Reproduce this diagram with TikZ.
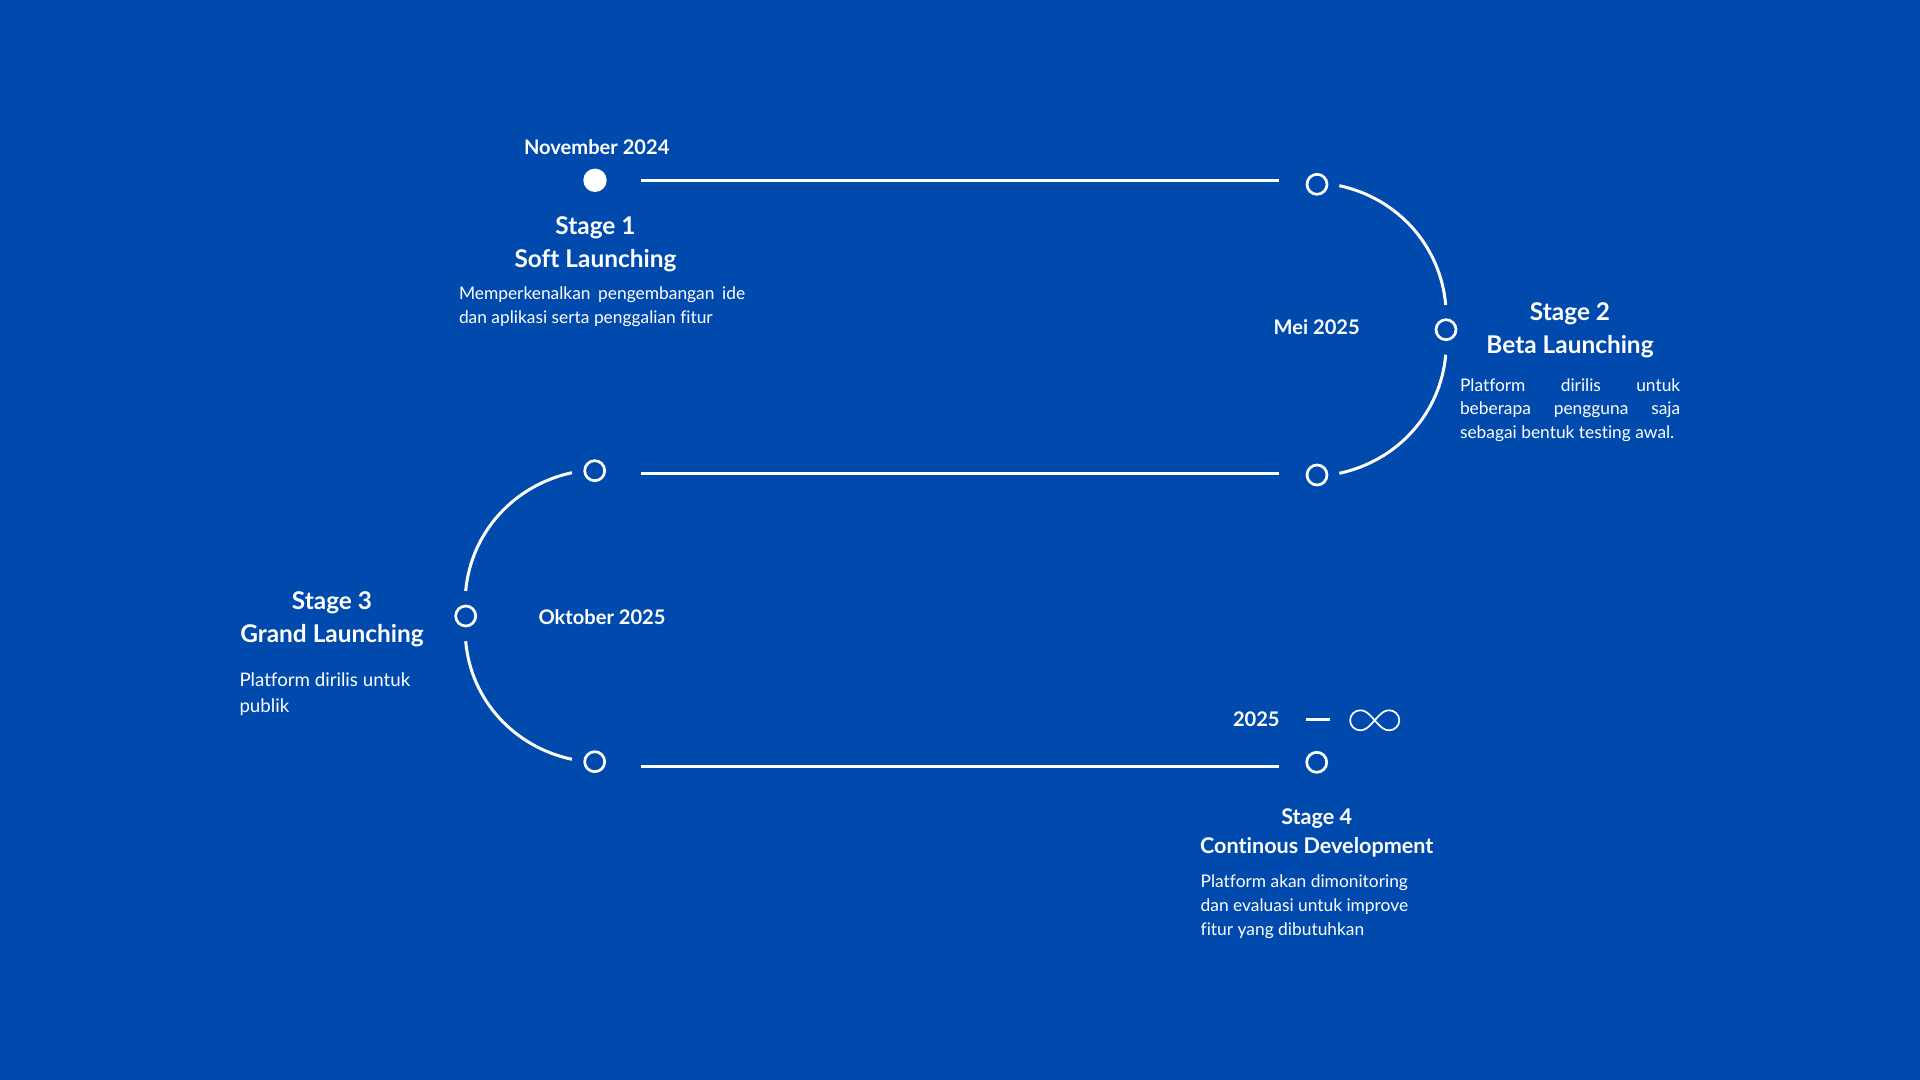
\documentclass[tikz,border=0pt]{standalone}
\usepackage{fontspec}
\setmainfont{Lato}[Ligatures=CommonOff]
\definecolor{bgblue}{HTML}{004AAD}
\newcommand{\just}[2]{\makebox[#1][s]{#2}}
\tikzset{
  x=0.5pt,y=-0.5pt,
  every node/.style={text=white,inner sep=0pt,outer sep=0pt},
  conn/.style={draw=white,line width=1.5pt},
  arcconn/.style={conn,looseness=0.95},
  dot/.style={circle,draw=white,line width=1.35pt,minimum size=10pt},
  dotfull/.style={circle,fill=white,minimum size=11.7pt},
  datelabel/.style={anchor=base,font=\fontsize{10.05pt}{12pt}\selectfont\bfseries},
  title/.style={anchor=base,align=center,font=\fontsize{12.2pt}{16.35pt}\selectfont\bfseries},
  titlesmall/.style={anchor=base,align=center,font=\fontsize{10.8pt}{14.6pt}\selectfont\bfseries},
  body/.style={anchor=base west,align=left,font=\fontsize{8.68pt}{11.9pt}\selectfont},
  bodybig/.style={anchor=base west,align=left,font=\fontsize{9.35pt}{13.15pt}\selectfont},
}
\begin{document}
\begin{tikzpicture}
\path[fill=bgblue] (0,0) rectangle (1920,1080);
% stage dots
\node[dotfull] (n1) at (595,180.3) {};
\node[dot] (n2) at (1317,184.3) {};
\node[dot] (n3) at (1446,329.7) {};
\node[dot] (n4) at (1317,475) {};
\node[dot] (n5) at (594.7,470.7) {};
\node[dot] (n6) at (465.7,616) {};
\node[dot] (n7) at (594.7,761.7) {};
\node[dot] (n8) at (1316.7,762.3) {};
% connector end points
\coordinate (a1) at (641,180.3);
\coordinate (a2) at (1279,180.3);
\coordinate (b1) at (1339.3,185.7);
\coordinate (b2) at (1445.7,305);
\coordinate (b3) at (1445.7,354.7);
\coordinate (b4) at (1339.3,473.3);
\coordinate (c1) at (1279,473.3);
\coordinate (c2) at (641,473.3);
\coordinate (d1) at (572,472.7);
\coordinate (d2) at (465.7,591);
\coordinate (d3) at (465.7,641.3);
\coordinate (d4) at (572,759.3);
\coordinate (e1) at (641,766.3);
\coordinate (e2) at (1279,766.3);
\coordinate (f1) at (1305.7,719.3);
\coordinate (f2) at (1330,719.3);
\draw[conn] (a1) -- (a2);
\draw[arcconn] (b1) to[out=-12,in=95] (b2);
\draw[arcconn] (b3) to[out=-95,in=12] (b4);
\draw[conn] (c1) -- (c2);
\draw[arcconn] (d1) to[out=192,in=85] (d2);
\draw[arcconn] (d3) to[out=-85,in=168] (d4);
\draw[conn] (e1) -- (e2);
\draw[conn] (f1) -- (f2);
% infinity sign
\begin{scope}[shift={(1374.7,720.3)}]
\draw[draw=white,line width=0.85pt] (0,0)
  .. controls (7,-8) and (10,-10) .. (14.5,-10)
  .. controls (20,-10) and (24.6,-5.5) .. (24.6,0)
  .. controls (24.6,5.5) and (20,10) .. (14.5,10)
  .. controls (10,10) and (7,8) .. (0,0)
  .. controls (-7,-8) and (-10,-10) .. (-14.5,-10)
  .. controls (-20,-10) and (-24.6,-5.5) .. (-24.6,0)
  .. controls (-24.6,5.5) and (-20,10) .. (-14.5,10)
  .. controls (-10,10) and (-7,8) .. (0,0) -- cycle;
\end{scope}
% dates
\node[datelabel] (t1) at (596.7,154.6) {November 2024};
\node[datelabel] (t2) at (1316.7,335) {Mei 2025};
\node[datelabel] (t3) at (602,624) {Oktober 2025};
\node[datelabel] (t4) at (1256.3,726) {2025};
% titles
\node[title] (s1) at (595.5,267.7) {Stage 1\\Soft Launching};
\node[title] (s2) at (1570,353.2) {Stage 2\\Beta Launching};
\node[title] (s3) at (332,642.3) {Stage 3\\Grand Launching};
\node[titlesmall] (s4) at (1316.7,853.5) {Stage 4\\Continous Development};
% bodies
\node[body] (p1) at (459,323.3) {\just{143.1pt}{Memperkenalkan pengembangan ide}\\dan aplikasi serta penggalian fitur};
\node[body] (p2) at (1460,438.7) {\just{110.1pt}{Platform dirilis untuk}\\\just{110.1pt}{beberapa pengguna saja}\\sebagai bentuk testing awal.};
\node[bodybig] (p3) at (239.5,712.3) {Platform dirilis untuk\\publik};
\node[body] (p4) at (1200.7,935.3) {Platform akan dimonitoring\\dan evaluasi untuk improve\\fitur yang dibutuhkan};
\end{tikzpicture}
\end{document}
